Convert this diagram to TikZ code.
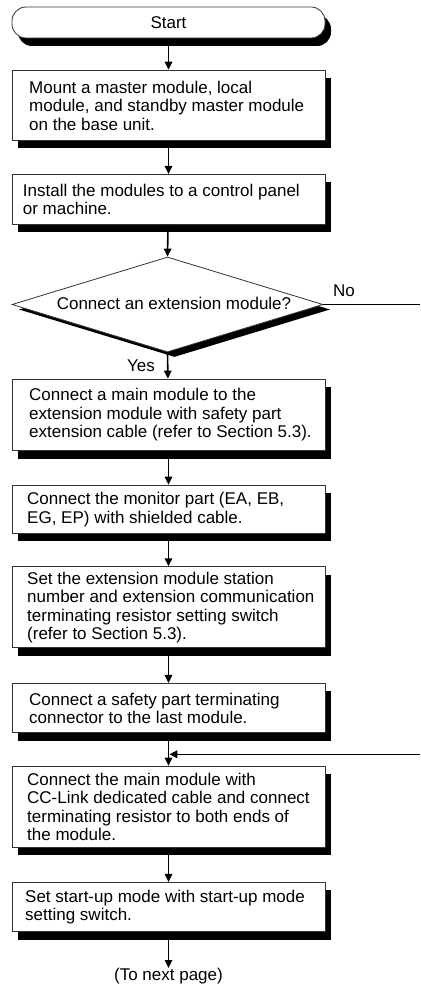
\documentclass[tikz,border=0pt]{standalone}
\usepackage{fontspec}
\setmainfont{Liberation Sans}
\usetikzlibrary{shapes.geometric,shadows,arrows.meta}
\begin{document}
\begin{tikzpicture}[x=1pt,y=-1pt,
  box/.style={draw=black!80, line width=0.8pt, fill=white, minimum width=313pt, inner sep=0pt,
    font=\fontsize{17}{18.5}\selectfont,
    drop shadow={shadow xshift=6pt, shadow yshift=-8pt, fill=black, opacity=1}},
  dia/.style={diamond, draw=black!80, line width=0.8pt, fill=white, minimum width=311pt, minimum height=95pt, inner sep=0pt,
    drop shadow={shadow xshift=7pt, shadow yshift=-5pt, fill=black, opacity=1}},
  txt/.style={anchor=west, align=left, inner sep=0pt, font=\fontsize{17}{18.5}\selectfont},
  lbl/.style={inner sep=0pt, font=\fontsize{17}{18.5}\selectfont},
  flow/.style={line width=1.6pt, -{Triangle[length=8pt,width=7.5pt]}},
  plain/.style={line width=1.6pt},
  ]
\useasboundingbox (0,0) rectangle (420,987);

% shapes
\node[box, rounded corners=14pt, minimum height=31pt] (start) at (168.5,22.5) {Start};
\node[box, minimum height=70.5pt] (b1) at (168.5,105.25) {};
\node[box, minimum height=50pt] (b2) at (168.5,199.3) {};
\node[dia] (dec) at (167.5,304.5) {};
\node[box, minimum height=71.7pt] (b3) at (168.5,414.9) {};
\node[box, minimum height=48.3pt] (b4) at (168.5,509.2) {};
\node[box, minimum height=81pt] (b5) at (168.5,607.2) {};
\node[box, minimum height=49.4pt] (b6) at (168.5,708) {};
\node[box, minimum height=81.3pt] (b7) at (168.5,806.7) {};
\node[box, minimum height=49.4pt] (b8) at (168.5,907) {};

% texts
\node[txt] (t1) at (29,105.5) {Mount a master module, local\\module, and standby master module\\on the base unit.};
\node[txt] (t2) at (22.7,199.5) {Install the modules to a control panel\\or machine.};
\node[lbl] (tdec) at (174,303.5) {Connect an extension module?};
\node[txt] (t3) at (29,415) {Connect a main module to the\\extension module with safety part\\extension cable (refer to Section 5.3).};
\node[txt] (t4) at (27,509.5) {Connect the monitor part (EA, EB,\\EG, EP) with shielded cable.};
\node[txt] (t5) at (27,607.5) {Set the extension module station\\number and extension communication\\terminating resistor setting switch\\(refer to Section 5.3).};
\node[txt] (t6) at (29,708.3) {Connect a safety part terminating\\connector to the last module.};
\node[txt] (t7) at (27,807) {Connect the main module with\\CC-Link dedicated cable and connect\\terminating resistor to both ends of\\the module.};
\node[txt] (t8) at (25,907.3) {Set start-up mode with start-up mode\\setting switch.};
\node[lbl, anchor=north] (next) at (168.5,968) {(To next page)};
\node[lbl, anchor=east] (yes) at (155,366) {Yes};
\node[lbl, anchor=west] (no) at (333,291) {No};

% connectors
\coordinate (noR) at (420,304.5);
\coordinate (fbR) at (420,754.3);
\coordinate (j) at (169.3,754.3);
\draw[flow] (start) -- (b1);
\draw[flow] (b1) -- (b2);
\draw[flow] (b2) -- (dec.north);
\draw[flow] (dec.south) -- (b3);
\draw[flow] (b3) -- (b4);
\draw[flow] (b4) -- (b5);
\draw[flow] (b5) -- (b6);
\draw[flow] (b6) -- (b7);
\draw[flow] (b7) -- (b8);
\draw[flow] (b8) -- (next);
\draw[plain] (dec.east) -- (noR);
\draw[flow] (fbR) -- (j);
\end{tikzpicture}
\end{document}
